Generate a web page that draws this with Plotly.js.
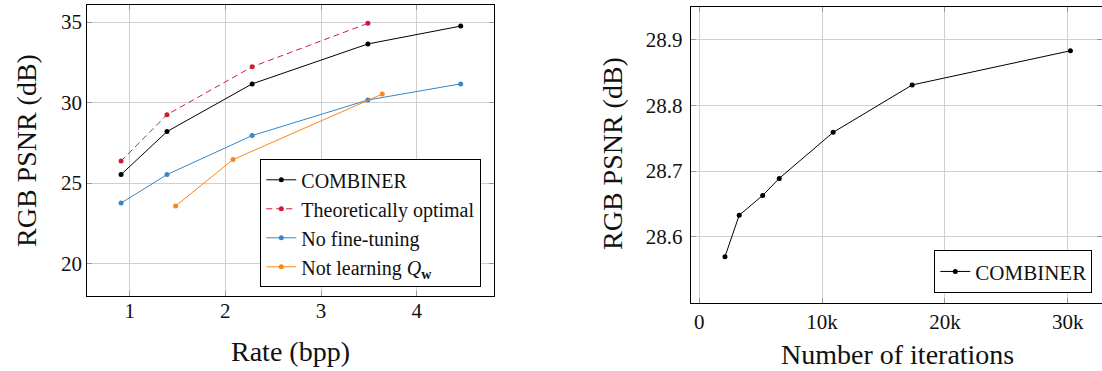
<!DOCTYPE html>
<html>
<head>
<meta charset="utf-8">
<script src="https://cdn.plot.ly/plotly-3.0.1.min.js"></script>
<style>html,body{margin:0;padding:0;background:#fff}#chart{width:1102px;height:371px}</style>
</head>
<body>
<div id="chart"></div>
<script>
// ---- Left panel: rate vs PSNR ----
const combinerRate = [0.91, 1.39, 2.28, 3.49, 4.46];
const combinerPsnr = [25.53, 28.20, 31.16, 33.64, 34.75];
const optimalRate = [0.91, 1.39, 2.28, 3.49];
const optimalPsnr = [26.37, 29.25, 32.22, 34.92];
const noFtRate = [0.91, 1.39, 2.28, 3.49, 4.46];
const noFtPsnr = [23.76, 25.53, 27.95, 30.16, 31.16];
const noQRate = [1.48, 2.08, 3.64];
const noQPsnr = [23.58, 26.46, 30.53];
const rateTicks = [1, 2, 3, 4];
const psnrTicks = [20, 25, 30, 35];

// ---- Right panel: iterations vs PSNR ----
const iterations = [2090, 3250, 5160, 6510, 10900, 17330, 30220];
const iterPsnr = [28.570, 28.633, 28.663, 28.689, 28.759, 28.831, 28.883];
const iterTicks = [0, 10000, 20000, 30000];
const iterTickText = ['0', '10k', '20k', '30k'];
const iterPsnrTicks = [28.6, 28.7, 28.8, 28.9];
const iterPsnrTickText = ['28.6', '28.7', '28.8', '28.9'];

const FONT = '"Liberation Serif", "DejaVu Serif", serif';
const W = 1102, H = 371;
const px = v => v / W;
const py = v => (H - v) / H;

function series(x, y, name, color, dash, xa, ya, legend) {
  return {
    x: x, y: y, name: name, type: 'scatter', mode: 'lines+markers',
    xaxis: xa, yaxis: ya, legend: legend,
    line: {color: color, width: 1, dash: dash || 'solid'},
    marker: {color: color, size: 5}
  };
}

const data = [
  series(combinerRate, combinerPsnr, 'COMBINER', '#000000', null, 'x', 'y', 'legend'),
  series(optimalRate, optimalPsnr, 'Theoretically optimal', '#d4183c', '6px,4px', 'x', 'y', 'legend'),
  series(noFtRate, noFtPsnr, 'No fine-tuning', '#3a86c6', null, 'x', 'y', 'legend'),
  series(noQRate, noQPsnr, 'Not learning <i>Q</i><b><sub>w</sub></b>', '#ff8514', null, 'x', 'y', 'legend'),
  series(iterations, iterPsnr, 'COMBINER', '#000000', null, 'x2', 'y2', 'legend2')
];

const axisCommon = {
  showline: true, linecolor: '#000', linewidth: 1, mirror: 'allticks',
  ticks: 'inside', ticklen: 5, tickcolor: '#999', tickwidth: 1,
  showgrid: true, gridcolor: '#d0d0d0', gridwidth: 1,
  zeroline: false, tickfont: {family: FONT, size: 21, color: '#111'},
  fixedrange: true
};

const layout = {
  width: W, height: H,
  margin: {l: 0, r: 0, t: 0, b: 0},
  paper_bgcolor: '#fff', plot_bgcolor: '#fff',
  font: {family: FONT, color: '#111'},
  xaxis: Object.assign({}, axisCommon, {
    domain: [px(87.3), px(494)], anchor: 'y', ticklabelstandoff: -4,
    range: [0.557, 4.808], tickvals: rateTicks, ticktext: rateTicks.map(String)
  }),
  yaxis: Object.assign({}, axisCommon, {
    domain: [py(296), py(5.3)], anchor: 'x',
    range: [17.99, 36.04], tickvals: psnrTicks, ticktext: psnrTicks.map(String)
  }),
  xaxis2: Object.assign({}, axisCommon, {
    domain: [px(690.7), px(1101.5)], anchor: 'y2',
    range: [-700, 32750], tickvals: iterTicks, ticktext: iterTickText
  }),
  yaxis2: Object.assign({}, axisCommon, {
    domain: [py(302.7), py(6.7)], anchor: 'x2', ticklabelstandoff: 3,
    range: [28.5, 28.95], tickvals: iterPsnrTicks, ticktext: iterPsnrTickText
  }),
  legend: {
    x: px(481.3), y: py(287.3), xanchor: 'right', yanchor: 'bottom',
    bgcolor: '#fff', bordercolor: '#000', borderwidth: 1,
    font: {family: FONT, size: 20, color: '#111'},
    tracegroupgap: 0
  },
  legend2: {
    x: px(1092.3), y: py(293.3), xanchor: 'right', yanchor: 'bottom',
    bgcolor: '#fff', bordercolor: '#000', borderwidth: 1,
    font: {family: FONT, size: 21, color: '#111'}
  },
  annotations: [
    {text: 'Rate (bpp)', xref: 'paper', yref: 'paper', x: px(290.7), y: py(351),
     xanchor: 'center', yanchor: 'middle', showarrow: false,
     font: {family: FONT, size: 28, color: '#111'}},
    {text: 'RGB PSNR (dB)', xref: 'paper', yref: 'paper', x: px(26), y: py(151),
     xanchor: 'center', yanchor: 'middle', showarrow: false, textangle: -90,
     font: {family: FONT, size: 28, color: '#111'}},
    {text: 'Number of iterations', xref: 'paper', yref: 'paper', x: px(897), y: py(354),
     xanchor: 'center', yanchor: 'middle', showarrow: false,
     font: {family: FONT, size: 28, color: '#111'}},
    {text: 'RGB PSNR (dB)', xref: 'paper', yref: 'paper', x: px(612), y: py(154),
     xanchor: 'center', yanchor: 'middle', showarrow: false, textangle: -90,
     font: {family: FONT, size: 28, color: '#111'}}
  ]
};

Plotly.newPlot('chart', data, layout, {displayModeBar: false, staticPlot: true});
</script>
</body>
</html>
